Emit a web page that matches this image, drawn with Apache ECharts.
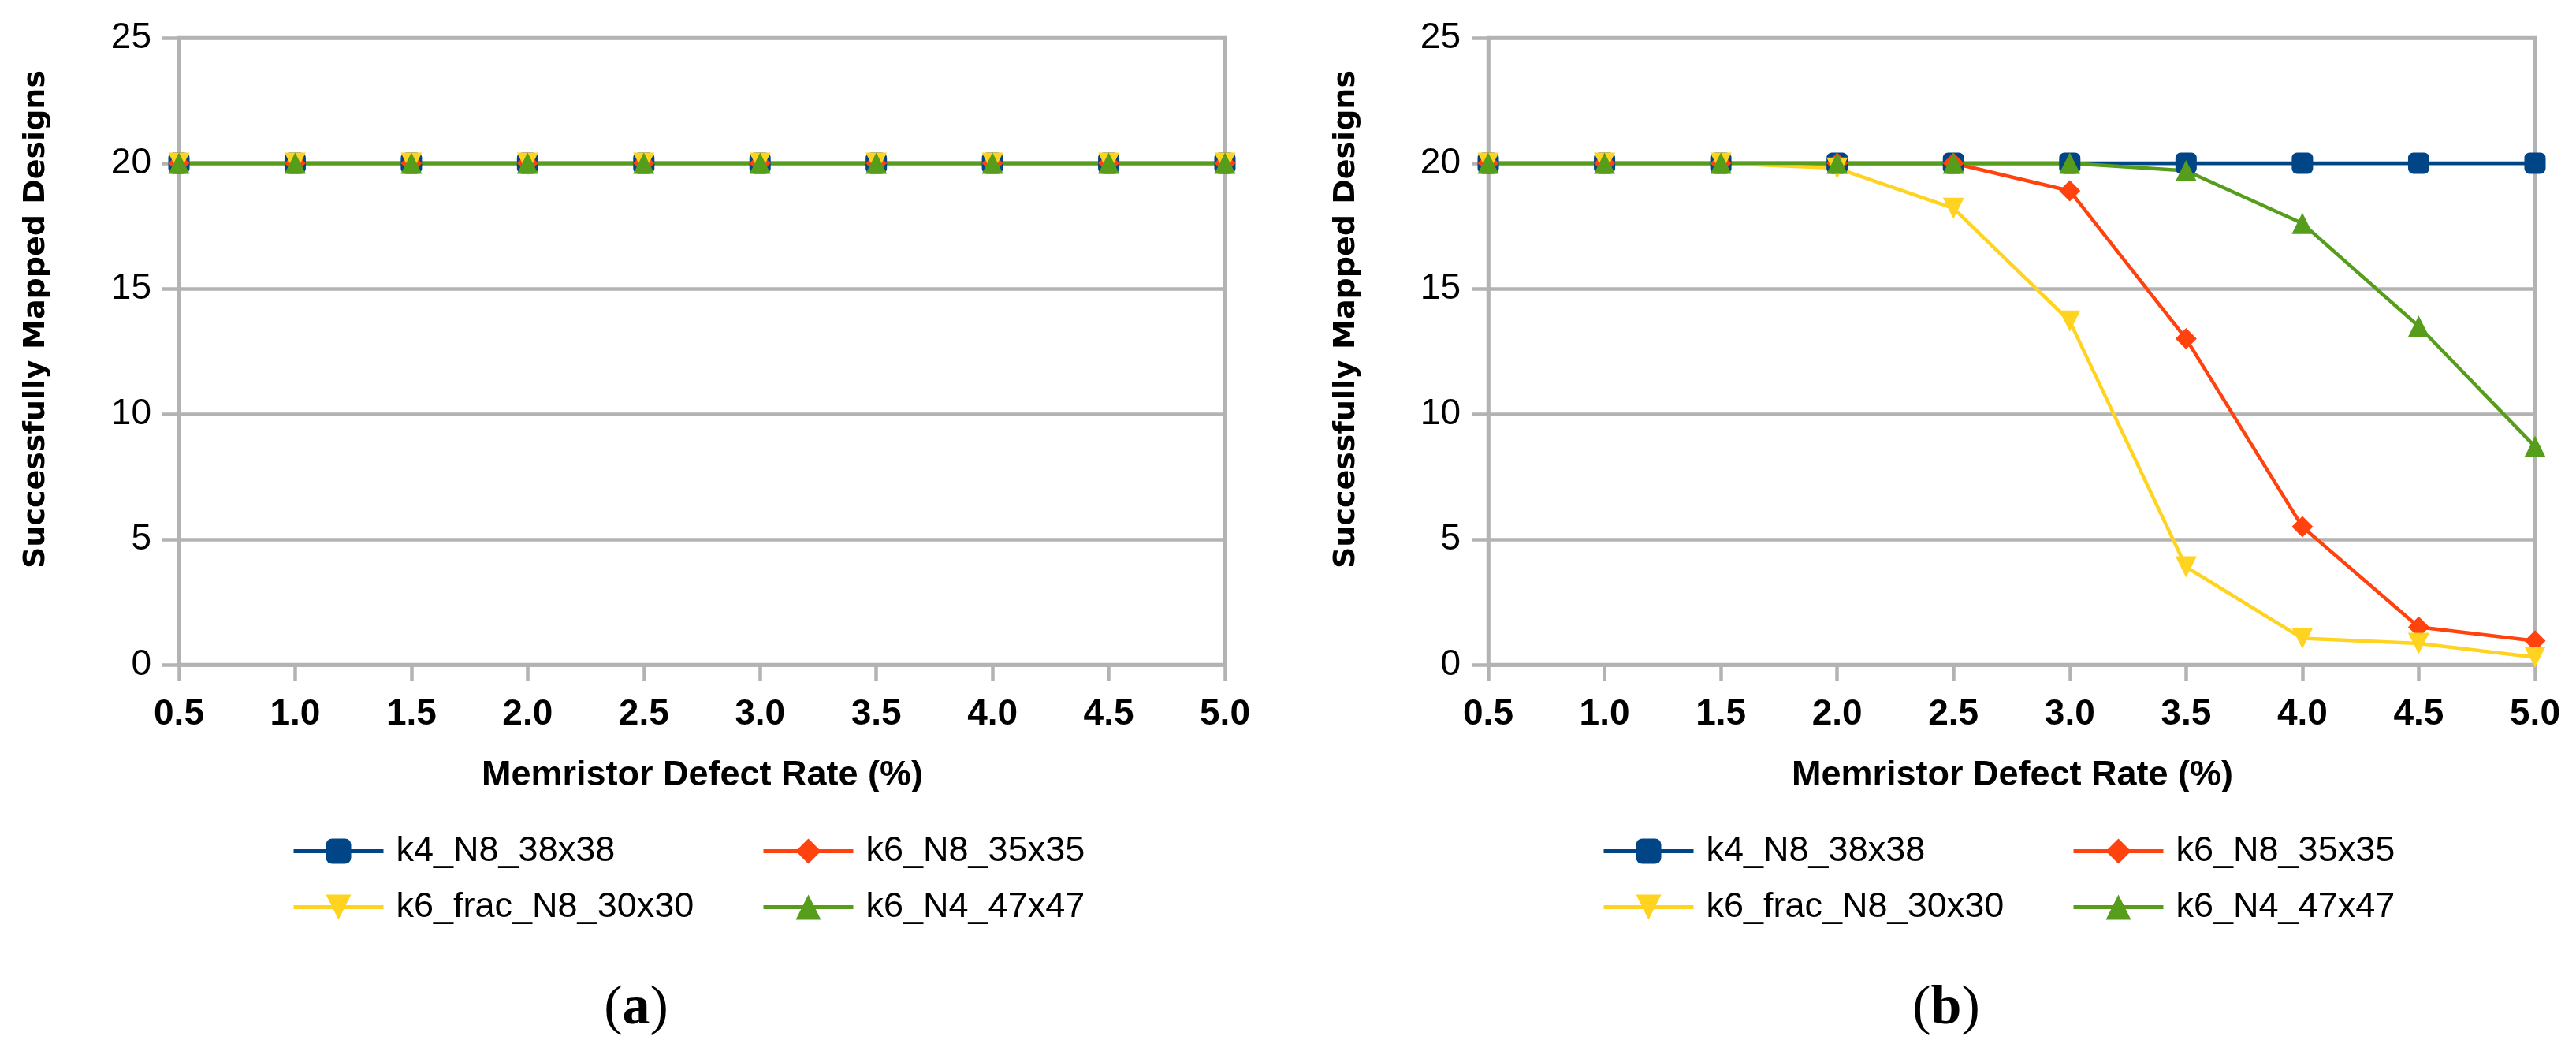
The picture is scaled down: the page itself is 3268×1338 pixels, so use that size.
<!DOCTYPE html>
<html><head><meta charset="utf-8">
<script src="https://cdn.jsdelivr.net/npm/echarts@6/dist/echarts.min.js"></script>
<style>html,body{margin:0;padding:0;background:#fff;}#c{width:3268px;height:1338px;}</style>
</head><body><div id="c"></div>
<script>
// ---- data ----
const defectRates = ['0.5','1.0','1.5','2.0','2.5','3.0','3.5','4.0','4.5','5.0'];
const yTickValues = [0, 5, 10, 15, 20, 25];
const seriesNames = ['k4_N8_38x38', 'k6_N8_35x35', 'k6_frac_N8_30x30', 'k6_N4_47x47'];

// panel (a)
const a_k4_N8 = [20, 20, 20, 20, 20, 20, 20, 20, 20, 20];
const a_k6_N8 = [20, 20, 20, 20, 20, 20, 20, 20, 20, 20];
const a_k6_frac = [20, 20, 20, 20, 20, 20, 20, 20, 20, 20];
const a_k6_N4 = [20, 20, 20, 20, 20, 20, 20, 20, 20, 20];

// panel (b)
const b_k4_N8 = [20, 20, 20, 20, 20, 20, 20, 20, 20, 20];
const b_k6_N8 = [20, 20, 20, 20, 20, 18.9, 13.0, 5.5, 1.5, 0.95];
const b_k6_frac = [20, 20, 20, 19.8, 18.2, 13.7, 3.9, 1.05, 0.85, 0.3];
const b_k6_N4 = [20, 20, 20, 20, 20, 20, 19.7, 17.6, 13.5, 8.7];

const yAxisTitle = 'Successfully Mapped Designs';
const xAxisTitle = 'Memristor Defect Rate (%)';
const panelLabels = ['a', 'b'];

// ---- styles ----
const colors = ['#004586', '#ff420e', '#ffd320', '#579d1c'];
const symbols = ['roundRect', 'diamond', 'path://M0,0L10,0L5,10Z', 'triangle'];
const FONT = 'Liberation Sans';
const GRAY = '#b3b3b3';

const panelData = [[a_k4_N8, a_k6_N8, a_k6_frac, a_k6_N4], [b_k4_N8, b_k6_N8, b_k6_frac, b_k6_N4]];
const grids = [
  {left: 227, right: 3268 - 1554, top: 48, bottom: 1338 - 843},
  {left: 1888, right: 3268 - 3216, top: 48, bottom: 1338 - 843}
];
const panelShift = [0, 1662];

const option = {
  animation: false,
  backgroundColor: '#fff',
  grid: grids.map(g => Object.assign({show: true, borderColor: GRAY, borderWidth: 4.5, backgroundColor: 'transparent'}, g)),
  xAxis: grids.map((g, i) => ({
    type: 'category', gridIndex: i, data: defectRates, boundaryGap: false,
    axisLine: {show: true, lineStyle: {color: GRAY, width: 4.5}},
    axisTick: {show: true, length: 21, lineStyle: {color: GRAY, width: 4.5}},
    axisLabel: {color: '#000', fontFamily: FONT, fontWeight: 'bold', fontSize: 46, lineHeight: 46, margin: 40},
    splitLine: {show: false}
  })),
  yAxis: grids.map((g, i) => ({
    type: 'value', gridIndex: i, min: yTickValues[0], max: yTickValues[yTickValues.length - 1],
    interval: yTickValues[1] - yTickValues[0],
    axisLine: {show: true, lineStyle: {color: GRAY, width: 4.5}},
    axisTick: {show: true, length: 21, lineStyle: {color: GRAY, width: 4.5}},
    axisLabel: {color: '#000', fontFamily: FONT, fontSize: 46, lineHeight: 46, margin: 35},
    splitLine: {show: true, lineStyle: {color: GRAY, width: 4.5}}
  })),
  series: [],
  legend: [],
  graphic: []
};

panelData.forEach((arrs, p) => {
  arrs.forEach((arr, k) => {
    option.series.push({
      type: 'line', name: seriesNames[k], xAxisIndex: p, yAxisIndex: p,
      data: arr, symbol: symbols[k], symbolSize: 27,
      lineStyle: {color: colors[k], width: 4.5},
      itemStyle: {color: colors[k]},
      showSymbol: true
    });
  });
  const legPos = [[370, 1057], [966, 1057], [370, 1128], [966, 1128]];
  seriesNames.forEach((n, k) => {
    option.legend.push({
      data: [n], left: legPos[k][0] + panelShift[p], top: legPos[k][1], padding: 0,
      itemWidth: 114, itemHeight: 40, selectedMode: false,
      lineStyle: {width: 5},
      textStyle: {fontFamily: FONT, fontSize: 45, color: '#000', lineHeight: 40, padding: [0, 0, 0, 11]}
    });
  });
  option.graphic.push({
    type: 'text', x: 46 + panelShift[p], y: 405, rotation: Math.PI / 2,
    style: {text: yAxisTitle, fontFamily: 'DejaVu Sans', fontWeight: 'bold', fontSize: 38, fill: '#000', align: 'center', verticalAlign: 'middle'}
  });
  option.graphic.push({
    type: 'text', x: 891 + panelShift[p], y: 984,
    style: {text: xAxisTitle, fontFamily: FONT, fontWeight: 'bold', fontSize: 45, fill: '#000', align: 'center', verticalAlign: 'middle'}
  });
  option.graphic.push({
    type: 'text', x: 807 + panelShift[p], y: 1280,
    style: {text: '({b|' + panelLabels[p] + '})', fontFamily: 'Liberation Serif', fontSize: 70, fill: '#000', align: 'center', verticalAlign: 'middle',
      rich: {b: {fontFamily: 'Liberation Serif', fontSize: 70, fontWeight: 'bold', fill: '#000'}}}
  });
});

const chart = echarts.init(document.getElementById('c'), null, {renderer: 'canvas'});
chart.setOption(option);
</script>
</body></html>
